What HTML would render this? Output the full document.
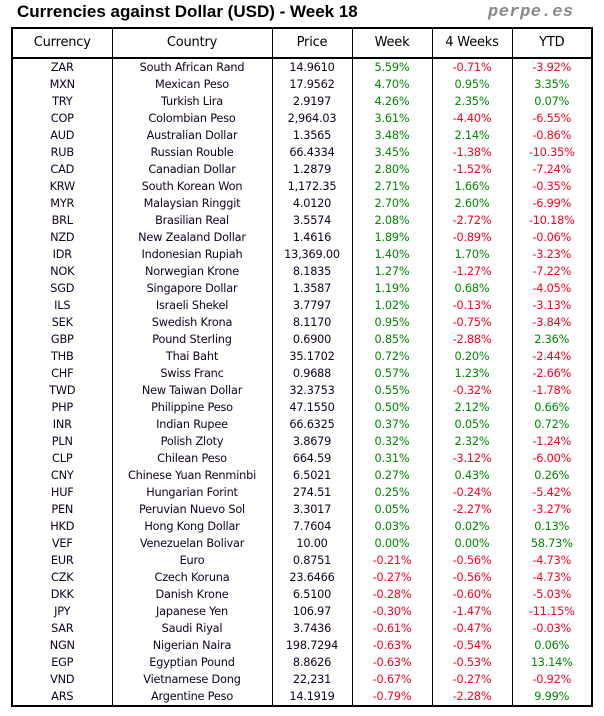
<!DOCTYPE html>
<html><head><meta charset="utf-8"><style>
body{margin:0;width:604px;height:716px;background:#fff;position:relative;font-family:"DejaVu Sans","Liberation Sans",sans-serif;overflow:hidden}
.t{position:absolute;left:17px;top:2px;font:bold 17px "Liberation Sans",sans-serif;color:#000}
.p{position:absolute;left:488px;top:3px;font:bold italic 17px "Liberation Mono",monospace;color:#888;letter-spacing:0.5px}
table{position:absolute;left:11px;top:27px;border-collapse:collapse;table-layout:fixed;border:2px solid #000}
td{padding:0;text-align:center;font-size:11.3px;height:17px;line-height:17px;border-left:1.5px solid #000;border-right:1.5px solid #000;color:#102;white-space:nowrap;overflow:hidden;letter-spacing:-0.2px}
tr.h td{height:28px;line-height:28px;font-size:13px;border-bottom:2px solid #000;color:#000}
.g{color:#080}.r{color:#f02}
</style></head><body>
<div class="t">Currencies against Dollar (USD) - Week 18</div>
<div class="p">perpe.es</div>
<table>
<colgroup><col style="width:100px"><col style="width:160px"><col style="width:80px"><col style="width:80px"><col style="width:80px"><col style="width:80px"></colgroup>
<tr class="h"><td>Currency</td><td>Country</td><td>Price</td><td>Week</td><td>4 Weeks</td><td>YTD</td></tr>
<tr><td>ZAR</td><td>South African Rand</td><td>14.9610</td><td class="g">5.59%</td><td class="r">-0.71%</td><td class="r">-3.92%</td></tr>
<tr><td>MXN</td><td>Mexican Peso</td><td>17.9562</td><td class="g">4.70%</td><td class="g">0.95%</td><td class="g">3.35%</td></tr>
<tr><td>TRY</td><td>Turkish Lira</td><td>2.9197</td><td class="g">4.26%</td><td class="g">2.35%</td><td class="g">0.07%</td></tr>
<tr><td>COP</td><td>Colombian Peso</td><td>2,964.03</td><td class="g">3.61%</td><td class="r">-4.40%</td><td class="r">-6.55%</td></tr>
<tr><td>AUD</td><td>Australian Dollar</td><td>1.3565</td><td class="g">3.48%</td><td class="g">2.14%</td><td class="r">-0.86%</td></tr>
<tr><td>RUB</td><td>Russian Rouble</td><td>66.4334</td><td class="g">3.45%</td><td class="r">-1.38%</td><td class="r">-10.35%</td></tr>
<tr><td>CAD</td><td>Canadian Dollar</td><td>1.2879</td><td class="g">2.80%</td><td class="r">-1.52%</td><td class="r">-7.24%</td></tr>
<tr><td>KRW</td><td>South Korean Won</td><td>1,172.35</td><td class="g">2.71%</td><td class="g">1.66%</td><td class="r">-0.35%</td></tr>
<tr><td>MYR</td><td>Malaysian Ringgit</td><td>4.0120</td><td class="g">2.70%</td><td class="g">2.60%</td><td class="r">-6.99%</td></tr>
<tr><td>BRL</td><td>Brasilian Real</td><td>3.5574</td><td class="g">2.08%</td><td class="r">-2.72%</td><td class="r">-10.18%</td></tr>
<tr><td>NZD</td><td>New Zealand Dollar</td><td>1.4616</td><td class="g">1.89%</td><td class="r">-0.89%</td><td class="r">-0.06%</td></tr>
<tr><td>IDR</td><td>Indonesian Rupiah</td><td>13,369.00</td><td class="g">1.40%</td><td class="g">1.70%</td><td class="r">-3.23%</td></tr>
<tr><td>NOK</td><td>Norwegian Krone</td><td>8.1835</td><td class="g">1.27%</td><td class="r">-1.27%</td><td class="r">-7.22%</td></tr>
<tr><td>SGD</td><td>Singapore Dollar</td><td>1.3587</td><td class="g">1.19%</td><td class="g">0.68%</td><td class="r">-4.05%</td></tr>
<tr><td>ILS</td><td>Israeli Shekel</td><td>3.7797</td><td class="g">1.02%</td><td class="r">-0.13%</td><td class="r">-3.13%</td></tr>
<tr><td>SEK</td><td>Swedish Krona</td><td>8.1170</td><td class="g">0.95%</td><td class="r">-0.75%</td><td class="r">-3.84%</td></tr>
<tr><td>GBP</td><td>Pound Sterling</td><td>0.6900</td><td class="g">0.85%</td><td class="r">-2.88%</td><td class="g">2.36%</td></tr>
<tr><td>THB</td><td>Thai Baht</td><td>35.1702</td><td class="g">0.72%</td><td class="g">0.20%</td><td class="r">-2.44%</td></tr>
<tr><td>CHF</td><td>Swiss Franc</td><td>0.9688</td><td class="g">0.57%</td><td class="g">1.23%</td><td class="r">-2.66%</td></tr>
<tr><td>TWD</td><td>New Taiwan Dollar</td><td>32.3753</td><td class="g">0.55%</td><td class="r">-0.32%</td><td class="r">-1.78%</td></tr>
<tr><td>PHP</td><td>Philippine Peso</td><td>47.1550</td><td class="g">0.50%</td><td class="g">2.12%</td><td class="g">0.66%</td></tr>
<tr><td>INR</td><td>Indian Rupee</td><td>66.6325</td><td class="g">0.37%</td><td class="g">0.05%</td><td class="g">0.72%</td></tr>
<tr><td>PLN</td><td>Polish Zloty</td><td>3.8679</td><td class="g">0.32%</td><td class="g">2.32%</td><td class="r">-1.24%</td></tr>
<tr><td>CLP</td><td>Chilean Peso</td><td>664.59</td><td class="g">0.31%</td><td class="r">-3.12%</td><td class="r">-6.00%</td></tr>
<tr><td>CNY</td><td>Chinese Yuan Renminbi</td><td>6.5021</td><td class="g">0.27%</td><td class="g">0.43%</td><td class="g">0.26%</td></tr>
<tr><td>HUF</td><td>Hungarian Forint</td><td>274.51</td><td class="g">0.25%</td><td class="r">-0.24%</td><td class="r">-5.42%</td></tr>
<tr><td>PEN</td><td>Peruvian Nuevo Sol</td><td>3.3017</td><td class="g">0.05%</td><td class="r">-2.27%</td><td class="r">-3.27%</td></tr>
<tr><td>HKD</td><td>Hong Kong Dollar</td><td>7.7604</td><td class="g">0.03%</td><td class="g">0.02%</td><td class="g">0.13%</td></tr>
<tr><td>VEF</td><td>Venezuelan Bolivar</td><td>10.00</td><td class="g">0.00%</td><td class="g">0.00%</td><td class="g">58.73%</td></tr>
<tr><td>EUR</td><td>Euro</td><td>0.8751</td><td class="r">-0.21%</td><td class="r">-0.56%</td><td class="r">-4.73%</td></tr>
<tr><td>CZK</td><td>Czech Koruna</td><td>23.6466</td><td class="r">-0.27%</td><td class="r">-0.56%</td><td class="r">-4.73%</td></tr>
<tr><td>DKK</td><td>Danish Krone</td><td>6.5100</td><td class="r">-0.28%</td><td class="r">-0.60%</td><td class="r">-5.03%</td></tr>
<tr><td>JPY</td><td>Japanese Yen</td><td>106.97</td><td class="r">-0.30%</td><td class="r">-1.47%</td><td class="r">-11.15%</td></tr>
<tr><td>SAR</td><td>Saudi Riyal</td><td>3.7436</td><td class="r">-0.61%</td><td class="r">-0.47%</td><td class="r">-0.03%</td></tr>
<tr><td>NGN</td><td>Nigerian Naira</td><td>198.7294</td><td class="r">-0.63%</td><td class="r">-0.54%</td><td class="g">0.06%</td></tr>
<tr><td>EGP</td><td>Egyptian Pound</td><td>8.8626</td><td class="r">-0.63%</td><td class="r">-0.53%</td><td class="g">13.14%</td></tr>
<tr><td>VND</td><td>Vietnamese Dong</td><td>22,231</td><td class="r">-0.67%</td><td class="r">-0.27%</td><td class="r">-0.92%</td></tr>
<tr><td>ARS</td><td>Argentine Peso</td><td>14.1919</td><td class="r">-0.79%</td><td class="r">-2.28%</td><td class="g">9.99%</td></tr>
</table>
</body></html>
